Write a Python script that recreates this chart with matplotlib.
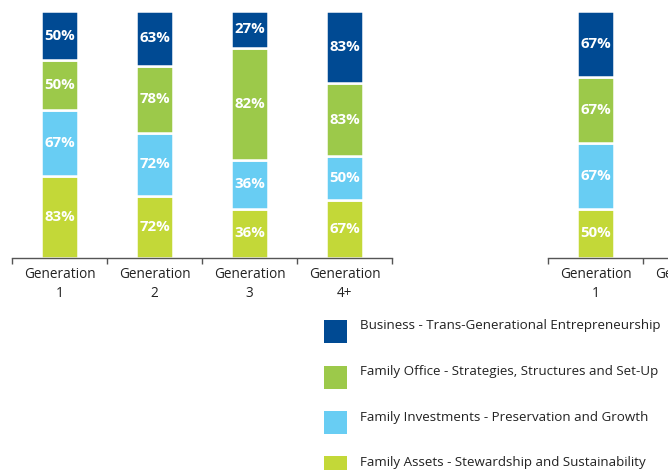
import matplotlib
matplotlib.use("Agg")
import matplotlib.pyplot as plt
from matplotlib.patches import Rectangle
import numpy as np

plt.rcParams['font.family'] = ['Open Sans', 'DejaVu Sans']

# ---- data ----
series_names = [
    "Family Assets - Stewardship and Sustainability",
    "Family Investments - Preservation and Growth",
    "Family Office - Strategies, Structures and Set-Up",
    "Business - Trans-Generational Entrepreneurship",
]
series_colors = ["#C3D838", "#68CDF3", "#9CC94A", "#004A93"]

left_categories = ["Generation\n1", "Generation\n2", "Generation\n3", "Generation\n4+"]
left_assets = [83, 72, 36, 67]
left_investments = [67, 72, 36, 50]
left_office = [50, 78, 82, 83]
left_business = [50, 63, 27, 83]

right_categories = ["Generation\n1", "Generation\n2", "Generation\n3", "Generation\n4+"]
right_assets = [50]
right_investments = [67]
right_office = [67]
right_business = [67]

W, H = 668, 470
fig = plt.figure(figsize=(W / 100, H / 100), dpi=100)


def px_axes(x0, y_top, x1, y_bottom):
    return fig.add_axes([x0 / W, 1 - y_bottom / H, (x1 - x0) / W, (y_bottom - y_top) / H])


def draw_panel(ax, categories, series):
    n = len(categories)
    totals = np.sum(np.array(series, dtype=float), axis=0)
    bottoms = np.zeros(len(totals))
    x = np.arange(len(totals))
    for vals, color in zip(series, series_colors):
        vals = np.array(vals, dtype=float)
        h = vals / totals
        ax.bar(x, h, bottom=bottoms, width=0.39, color=color,
               edgecolor="white", linewidth=1.8, zorder=2)
        for xi, hi, bi, v in zip(x, h, bottoms, vals):
            ax.text(xi, bi + hi / 2, f"{int(v)}%", ha="center", va="center",
                    color="white", fontsize=10.8, fontweight="bold", zorder=3)
        bottoms += h
    ax.set_xlim(-0.5, n - 0.5)
    ax.set_ylim(0, 1.0)
    for s in ["top", "right", "left"]:
        ax.spines[s].set_visible(False)
    ax.spines["bottom"].set_color("#555555")
    ax.spines["bottom"].set_linewidth(1.0)
    ax.set_yticks([])
    ax.set_xticks(np.arange(-0.5, n, 1.0))
    ax.set_xticklabels([])
    ax.tick_params(axis="x", length=4, width=1.0, color="#555555", direction="out")
    for i, c in enumerate(categories):
        ax.text(i, -0.035, c, ha="center", va="top", fontsize=9.8,
                color="#222222", linespacing=1.4, transform=ax.transData,
                clip_on=False)
    ax.patch.set_alpha(0)


ax1 = px_axes(12, 11, 392, 258)
draw_panel(ax1, left_categories,
           [left_assets, left_investments, left_office, left_business])

ax2 = px_axes(548, 11, 928, 258)
draw_panel(ax2, right_categories,
           [right_assets, right_investments, right_office, right_business])

# ---- legend ----
legend_order = [3, 2, 1, 0]
for k, idx in enumerate(legend_order):
    y_top = 320 + k * 45.5
    fig.add_artist(Rectangle((324 / W, 1 - (y_top + 23) / H), 23 / W, 23 / H,
                             transform=fig.transFigure, facecolor=series_colors[idx],
                             edgecolor="none"))
    fig.text(360 / W, 1 - (y_top + 6) / H, series_names[idx], ha="left", va="center",
             fontsize=9.6, color="#222222")

fig.savefig("out.png", dpi=100)
